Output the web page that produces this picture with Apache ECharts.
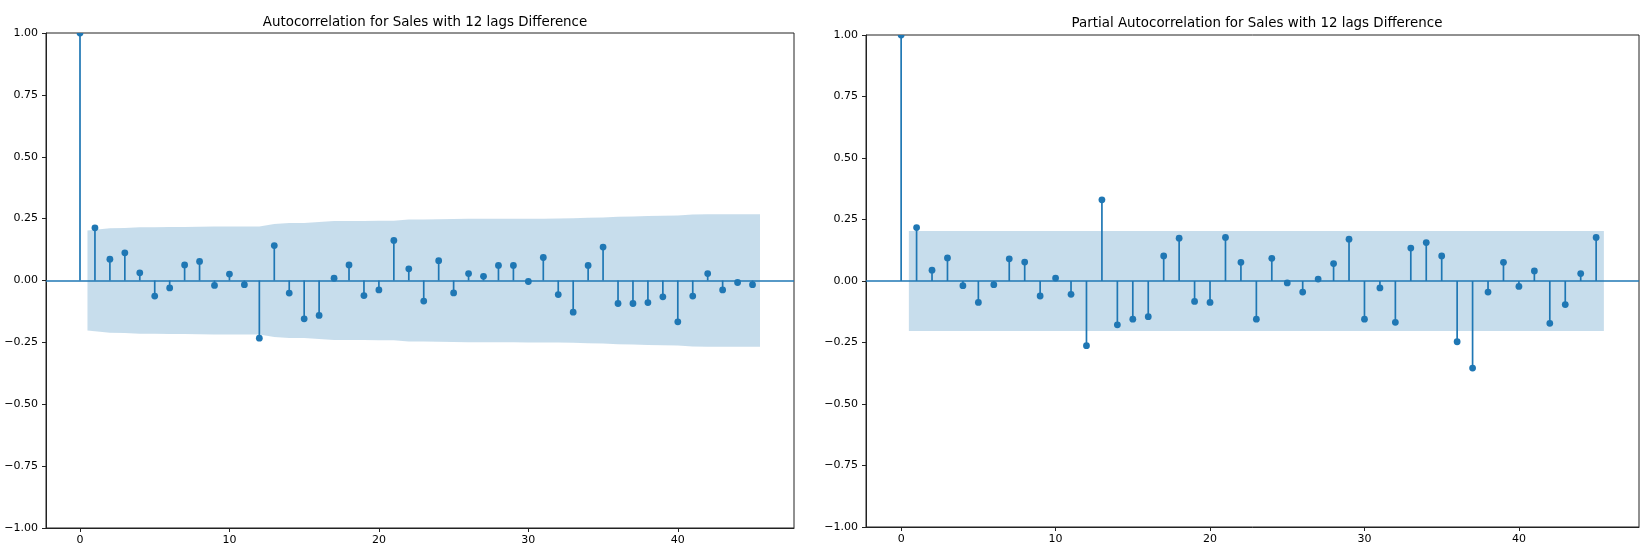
<!DOCTYPE html>
<html><head><meta charset="utf-8">
<script src="https://cdn.jsdelivr.net/npm/echarts@6/dist/echarts.min.js"></script>
<style>html,body{margin:0;padding:0;background:#fff}#c{width:1643px;height:553px}</style>
</head><body><div id="c"></div>
<script>
// ---- data ----
const lags = [0,1,2,3,4,5,6,7,8,9,10,11,12,13,14,15,16,17,18,19,20,21,22,23,24,25,26,27,28,29,30,31,32,33,34,35,36,37,38,39,40,41,42,43,44,45];
const acfValues = [1.000,
  0.213,0.086,0.112,0.031,-0.063,-0.030,0.063,0.077,-0.020,0.026,
  -0.017,-0.233,0.141,-0.051,-0.155,-0.141,0.009,0.063,-0.061,-0.038,
  0.162,0.047,-0.083,0.080,-0.050,0.028,0.017,0.061,0.061,-0.004,
  0.093,-0.057,-0.128,0.061,0.135,-0.093,-0.093,-0.089,-0.066,-0.167,
  -0.063,0.028,-0.038,-0.008,-0.017];
// half-width of the confidence band for lags 1..45
const acfBand = [0.202,0.211,0.212,0.215,0.215,0.216,0.216,0.217,0.218,0.218,
  0.218,0.218,0.228,0.232,0.232,0.236,0.240,0.240,0.240,0.241,
  0.241,0.246,0.246,0.247,0.248,0.249,0.249,0.249,0.249,0.250,
  0.250,0.251,0.252,0.254,0.255,0.258,0.259,0.261,0.262,0.263,
  0.267,0.268,0.268,0.268,0.268];
const pacfValues = [1.000,
  0.217,0.044,0.094,-0.019,-0.087,-0.015,0.090,0.077,-0.061,0.012,
  -0.054,-0.263,0.330,-0.178,-0.155,-0.145,0.102,0.174,-0.083,-0.087,
  0.177,0.076,-0.155,0.092,-0.008,-0.045,0.008,0.071,0.170,-0.155,
  -0.028,-0.168,0.134,0.156,0.102,-0.247,-0.354,-0.045,0.076,-0.022,
  0.041,-0.172,-0.096,0.030,0.177];
const pacfBand = [0.203,0.203,0.203,0.203,0.203,0.203,0.203,0.203,0.203,0.203,
  0.203,0.203,0.203,0.203,0.203,0.203,0.203,0.203,0.203,0.203,
  0.203,0.203,0.203,0.203,0.203,0.203,0.203,0.203,0.203,0.203,
  0.203,0.203,0.203,0.203,0.203,0.203,0.203,0.203,0.203,0.203,
  0.203,0.203,0.203,0.203,0.203];
const xTicks = [0,10,20,30,40];
const titles = ['Autocorrelation for Sales with 12 lags Difference',
                'Partial Autocorrelation for Sales with 12 lags Difference'];

// ---- chart ----
const BLUE = '#1f77b4';
const FONT = 'DejaVu Sans';
const chart = echarts.init(document.getElementById('c'), null, {renderer:'canvas'});

function bandX() {
  // statsmodels shifts the first/last band point by half a lag
  const xs = lags.slice(1);
  xs[0] = xs[0] - 0.5;
  xs[xs.length-1] = xs[xs.length-1] + 0.5;
  return xs;
}

function bandSeries(band, idx) {
  const xs = bandX();
  return {
    type: 'custom', xAxisIndex: idx, yAxisIndex: idx, silent: true, z: 1,
    data: [[xs[0], 0]],
    encode: {x: 0, y: 1},
    renderItem: function (params, api) {
      const pts = [];
      for (let i = 0; i < xs.length; i++) pts.push(api.coord([xs[i], band[i]]));
      for (let i = xs.length - 1; i >= 0; i--) pts.push(api.coord([xs[i], -band[i]]));
      return {type: 'polygon', shape: {points: pts}, style: {fill: 'rgba(31,119,180,0.25)'}};
    },
    markLine: {
      silent: true, symbol: ['none','none'], label: {show: false},
      lineStyle: {color: BLUE, width: 1.7, type: 'solid'},
      data: [{yAxis: 0}]
    }
  };
}

function stemSeries(vals, idx) {
  return {
    type: 'custom', xAxisIndex: idx, yAxisIndex: idx, silent: true, z: 3, clip: true,
    data: lags.map((l, i) => [l, vals[i]]),
    encode: {x: 0, y: 1},
    renderItem: function (params, api) {
      const p0 = api.coord([api.value(0), 0]);
      const p1 = api.coord([api.value(0), api.value(1)]);
      return {type: 'group', children: [
        {type: 'line', shape: {x1: p0[0], y1: p0[1], x2: p1[0], y2: p1[1]},
         style: {stroke: BLUE, lineWidth: 1.7}},
        {type: 'circle', shape: {cx: p1[0], cy: p1[1], r: 3.4},
         style: {fill: BLUE}}
      ]};
    }
  };
}

function xAxis(idx) {
  return {
    type: 'value', gridIndex: idx, min: -2.275, max: 47.775,
    splitLine: {show: false},
    axisLine: {show: true, onZero: false, lineStyle: {color: '#222', width: 1}},
    axisTick: {show: true, length: 4, customValues: xTicks, lineStyle: {color: '#222'}},
    axisLabel: {customValues: xTicks, color: '#000', fontFamily: FONT, fontSize: 11, margin: 7}
  };
}
function yAxis(idx) {
  return {
    type: 'value', gridIndex: idx, min: -1, max: 1, interval: 0.25,
    splitLine: {show: false},
    axisLine: {show: true, onZero: false, lineStyle: {color: '#222', width: 1}},
    axisTick: {show: true, length: 4, lineStyle: {color: '#222'}},
    axisLabel: {color: '#000', fontFamily: FONT, fontSize: 11, margin: 8,
      formatter: v => (v < 0 ? '\u2212' + Math.abs(v).toFixed(2) : v.toFixed(2))}
  };
}

chart.setOption({
  animation: false,
  backgroundColor: '#fff',
  title: [
    {text: titles[0], left: 420, top: 11, textAlign: 'center',
     textStyle: {fontFamily: FONT, fontSize: 13.4, fontWeight: 'normal', color: '#000', lineHeight: 14}},
    {text: titles[1], left: 1252, top: 12, textAlign: 'center',
     textStyle: {fontFamily: FONT, fontSize: 13.4, fontWeight: 'normal', color: '#000', lineHeight: 14}}
  ],
  grid: [
    {left: 46, top: 33, width: 748, height: 495, show: true, borderColor: '#222', borderWidth: 1, backgroundColor: 'transparent'},
    {left: 866, top: 35, width: 773, height: 492, show: true, borderColor: '#222', borderWidth: 1, backgroundColor: 'transparent'}
  ],
  xAxis: [xAxis(0), xAxis(1)],
  yAxis: [yAxis(0), yAxis(1)],
  series: [
    bandSeries(acfBand, 0), stemSeries(acfValues, 0),
    bandSeries(pacfBand, 1), stemSeries(pacfValues, 1)
  ]
});
</script>
</body></html>
